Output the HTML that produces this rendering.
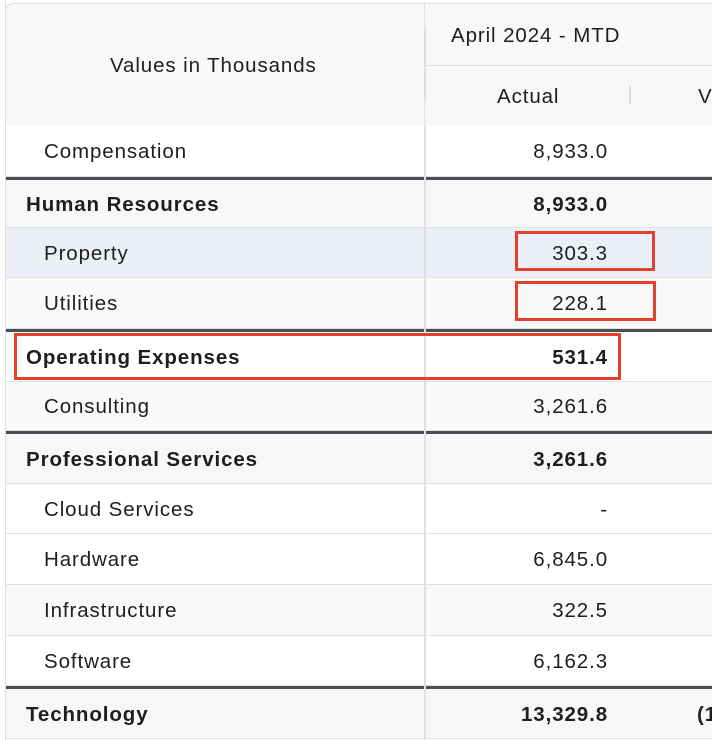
<!DOCTYPE html>
<html><head><style>
body{margin:0;width:712px;height:740px;background:#fff;font-family:"Liberation Sans",sans-serif;color:#1e1e1e;overflow:hidden;position:relative;letter-spacing:0.9px}
.r{position:absolute;left:5px;width:720px;font-size:20.5px;border-bottom:1px solid #e2e2e2}
.r span{position:absolute;top:50%;transform:translateY(-45%)}
.l{left:39px}.b .l{left:21px}
.v{right:117px}
.b{font-weight:bold}
.vd{position:absolute;left:424px;width:2px;background:#e0e0e0}
.thick{position:absolute;left:5px;width:720px;height:3px;background:#4a4d52}
.red{position:absolute;border:3px solid #e2412b;box-sizing:border-box}
.h{position:absolute;font-size:20.5px}
</style></head><body>
<div class="r" style="top:3px;height:121px;background:#f7f8fa;border-top-left-radius:8px;border-top:1px solid #ddd;border-left:1px solid #ddd"></div>
<div class="h" style="left:110px;top:54px">Values in Thousands</div>
<div class="h" style="left:451px;top:24px">April 2024 - MTD</div>
<div class="h" style="left:497px;top:85px">Actual</div>
<div class="h" style="left:698px;top:85px">V</div>
<div style="position:absolute;left:426px;top:65px;width:290px;height:1px;background:#e0e0e0"></div>
<div style="position:absolute;left:424px;top:28px;width:2px;height:72px;background:#ddd"></div>
<div style="position:absolute;left:629px;top:86px;width:2px;height:18px;background:#ddd"></div>
<div style="position:absolute;left:424px;top:3px;width:1px;height:121px;background:#e0e0e0"></div>

<div class="r" style="top:125px;height:51px;background:#fff"><span class="l">Compensation</span><span class="v">8,933.0</span></div>
<div class="thick" style="top:177px"></div>
<div class="r b" style="top:180px;height:47px;background:#f6f7f9"><span class="l">Human Resources</span><span class="v">8,933.0</span></div>
<div class="r" style="top:228px;height:49px;background:#eceff6"><span class="l">Property</span><span class="v">303.3</span></div>
<div class="r" style="top:278px;height:50px;background:#f9f9f9"><span class="l">Utilities</span><span class="v">228.1</span></div>
<div class="thick" style="top:329px"></div>
<div class="r b" style="top:332px;height:49px;background:#fff"><span class="l">Operating Expenses</span><span class="v">531.4</span></div>
<div class="r" style="top:382px;height:48px;background:#f9f9f9"><span class="l">Consulting</span><span class="v">3,261.6</span></div>
<div class="thick" style="top:431px"></div>
<div class="r b" style="top:434px;height:49px;background:#f6f7f9"><span class="l">Professional Services</span><span class="v">3,261.6</span></div>
<div class="r" style="top:484px;height:49px;background:#fff"><span class="l">Cloud Services</span><span class="v">-</span></div>
<div class="r" style="top:534px;height:50px;background:#fff"><span class="l">Hardware</span><span class="v">6,845.0</span></div>
<div class="r" style="top:585px;height:50px;background:#f9f9f9"><span class="l">Infrastructure</span><span class="v">322.5</span></div>
<div class="r" style="top:636px;height:49px;background:#fff"><span class="l">Software</span><span class="v">6,162.3</span></div>
<div class="thick" style="top:686px"></div>
<div class="r b" style="top:689px;height:49px;background:#f6f7f9"><span class="l">Technology</span><span class="v">13,329.8</span><span style="left:692px">(1</span></div>
<div class="vd" style="top:125px;height:615px"></div>
<div style="position:absolute;left:5px;top:0;width:1px;height:740px;background:#ddd"></div>

<div class="red" style="left:515px;top:231px;width:140px;height:40px"></div>
<div class="red" style="left:515px;top:281px;width:141px;height:40px"></div>
<div class="red" style="left:14px;top:333px;width:607px;height:47px"></div>
</body></html>
